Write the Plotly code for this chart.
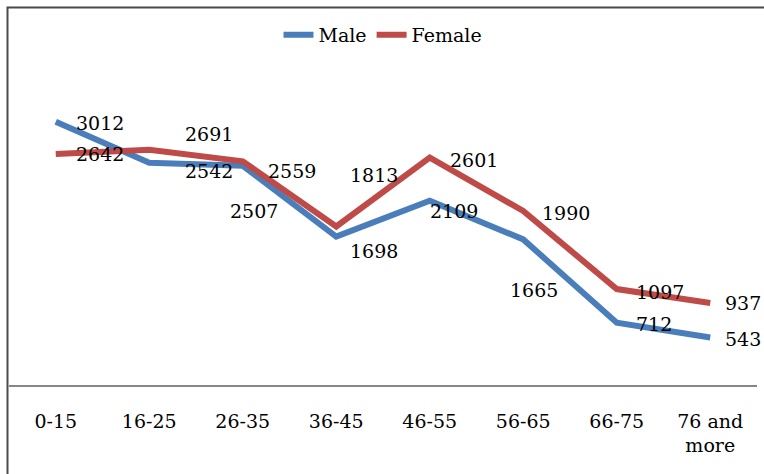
import plotly.graph_objects as go

categories = ["0-15", "16-25", "26-35", "36-45", "46-55", "56-65", "66-75", "76 and<br>more"]
male = [3012, 2542, 2507, 1698, 2109, 1665, 712, 543]
female = [2642, 2691, 2559, 1813, 2601, 1990, 1097, 937]

# label offsets in pixels (dx right, dy down) - style only
male_off = [(44, 1), (60, 8), (11, 45), (38, 14), (24, 10), (11, 51), (37, 1), (33, 1)]
female_off = [(44, 0), (60, -16), (49, 10), (38, -51), (44, 2), (43, 2), (43, 3), (33, 0)]

FONT = "DejaVu Serif"
BLUE = "#4A7EBB"
RED = "#BE4B48"

fig = go.Figure()
fig.add_trace(go.Scatter(x=categories, y=male, mode="lines", name="Male",
                         line=dict(color=BLUE, width=6)))
fig.add_trace(go.Scatter(x=categories, y=female, mode="lines", name="Female",
                         line=dict(color=RED, width=6)))

annotations = []
for vals, offs in ((male, male_off), (female, female_off)):
    for c, v, (dx, dy) in zip(categories, vals, offs):
        annotations.append(dict(x=c, y=v, xref="x", yref="y", text=str(v),
                                showarrow=False, xshift=dx, yshift=-dy,
                                font=dict(family=FONT, size=19, color="black")))

H = 306.0
W = 748.0
fig.update_layout(
    width=764, height=474,
    margin=dict(l=9, r=7, t=79, b=89, autoexpand=False),
    paper_bgcolor="white", plot_bgcolor="white",
    font=dict(family=FONT, size=19, color="black"),
    showlegend=True,
    legend=dict(orientation="h", x=0.5, xanchor="center", y=1 + (79 - 35) / H,
                yanchor="middle", font=dict(family=FONT, size=19, color="black"),
                bgcolor="rgba(0,0,0,0)"),
    xaxis=dict(type="category", range=[-0.5, len(categories) - 0.5],
               showline=True, linecolor="#868686", linewidth=1.5, automargin=False,
               showgrid=False, zeroline=False, ticks="", ticklabelstandoff=18,
               tickfont=dict(family=FONT, size=19, color="black"), fixedrange=True),
    yaxis=dict(range=[0, 3500], visible=False, showgrid=False, zeroline=False,
               automargin=False, fixedrange=True),
    annotations=annotations,
    shapes=[dict(type="rect", xref="paper", yref="paper",
                 x0=(7.5 - 9) / W, x1=1.2, y0=-0.5, y1=1 + (79 - 7.5) / H,
                 line=dict(color="#4a4a4a", width=2), layer="below")],
)

fig.write_html("out.html", config={"displayModeBar": False},
               post_script="document.body.style.margin='0';document.body.style.overflow='hidden';")
